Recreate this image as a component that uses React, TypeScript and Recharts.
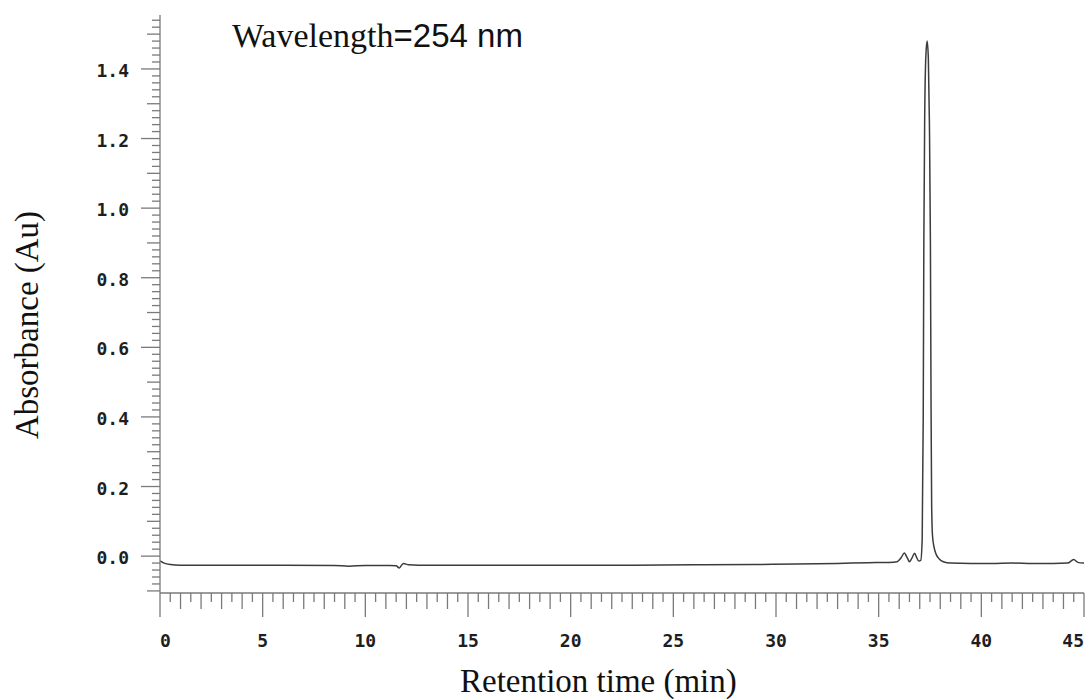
import { LineChart, Line, XAxis, YAxis, Customized } from "recharts"

// retention time (min) and absorbance (Au)
const times = [
    0, 0.2, 0.5, 1, 3, 6, 8.5, 9.2, 10, 11.2, 11.5, 11.65, 11.85, 12.1, 12.6,
    14, 17, 20, 23, 26, 29, 31, 33, 34.5, 35.5, 35.9, 36.1, 36.25, 36.4, 36.5,
    36.6, 36.75, 36.85, 36.95, 37.05, 37.12, 37.17, 37.2, 37.24, 37.3, 37.36,
    37.42, 37.47, 37.52, 37.55, 37.58, 37.62, 37.7, 37.8, 37.95, 38.15, 38.5,
    39.5, 40.5, 41.5, 42.5, 43.5, 44.2, 44.5, 44.7, 45,
]
const absorbance = [
    -0.014, -0.02, -0.024, -0.026, -0.026, -0.026, -0.027, -0.029, -0.027, -0.027, -0.028, -0.034, -0.021, -0.025, -0.026,
    -0.026, -0.026, -0.026, -0.026, -0.025, -0.024, -0.023, -0.021, -0.019, -0.018, -0.016, -0.004, 0.009, -0.006, -0.016,
    -0.008, 0.008, -0.004, -0.014, -0.012, 0.05, 0.4, 0.9, 1.25, 1.44, 1.48,
    1.43, 1.25, 0.9, 0.45, 0.15, 0.06, 0.025, 0.005, -0.008, -0.016, -0.02,
    -0.021, -0.021, -0.02, -0.021, -0.021, -0.02, -0.01, -0.018, -0.02,
]

const xLabels = [0, 5, 10, 15, 20, 25, 30, 35, 40, 45]
const yLabels = ["0.0", "0.2", "0.4", "0.6", "0.8", "1.0", "1.2", "1.4"]

const data = times.map((t, i) => ({ t, a: absorbance[i] }))

// minor ticks: every 0.5 min and every 0.02 Au
const xTicks = Array.from({ length: 91 }, (_, i) => i / 2)
const yTicks = Array.from({ length: 83 }, (_, i) => (-10 + 2 * i) / 100)

const axisColor = "#7a7a7a"
const tickFont = "'DejaVu Sans Mono', monospace"

const XTick = (props: any) => {
    const { x, y, payload } = props
    const v = payload.value
    const half = Math.round(v * 2)
    const isLabel = half % 10 === 0
    const len = isLabel ? 24 : half % 2 === 0 ? 16 : 9
    const lbl = xLabels.find((l) => l === v)
    let anchor = "middle"
    if (v === 0) anchor = "start"
    if (v === 45) anchor = "end"
    return (
        <g>
            <line x1={x} x2={x} y1={y} y2={y + len} stroke={axisColor} strokeWidth={1.3} />
            {isLabel && lbl !== undefined && (
                <text x={x} y={y + 54} textAnchor={anchor} fontFamily={tickFont} fontWeight="bold" fontSize={18} fill="#1e1e1e">
                    {lbl}
                </text>
            )}
        </g>
    )
}

const YTick = (props: any) => {
    const { x, y, payload } = props
    const k = Math.round(payload.value * 100)
    const isLabel = k % 20 === 0 && k >= 0
    const len = isLabel ? 19 : k % 10 === 0 ? 13 : 8
    return (
        <g>
            <line x1={x} x2={x - len} y1={y} y2={y} stroke={axisColor} strokeWidth={1.3} />
            {isLabel && (
                <text x={x - 31} y={y + 8} textAnchor="end" fontFamily={tickFont} fontWeight="bold" fontSize={18} fill="#1e1e1e">
                    {yLabels[k / 20]}
                </text>
            )}
        </g>
    )
}

const Titles = () => (
    <g>
        <text x={232} y={47} fontSize={34} fill="#111">
            <tspan fontFamily="'Liberation Serif', serif">Wavelength</tspan>
            <tspan fontFamily="'Liberation Sans', sans-serif" fontSize={33}>=254 nm</tspan>
        </text>
        <text x={460} y={692} fontSize={33} fontFamily="'Liberation Serif', serif" fill="#111">
            Retention time (min)
        </text>
        <text x={38} y={325} fontSize={33} fontFamily="'Liberation Serif', serif" fill="#111" textAnchor="middle" transform="rotate(-90 38 325)">
            Absorbance (Au)
        </text>
    </g>
)

export default function App() {
    return (
        <div style={{ position: "absolute", left: 0, top: 0, background: "#fff" }}>
            <LineChart width={1087} height={699} data={data} margin={{ top: 15, right: 3, bottom: 0, left: 0 }}>
                <XAxis
                    dataKey="t"
                    type="number"
                    domain={[0, 45]}
                    ticks={xTicks}
                    interval={0}
                    height={106}
                    tickSize={0}
                    tickMargin={0}
                    tickLine={false}
                    tick={<XTick />}
                    axisLine={{ stroke: axisColor, strokeWidth: 1.3 }}
                    allowDataOverflow
                />
                <YAxis
                    type="number"
                    domain={[-0.106, 1.555]}
                    ticks={yTicks}
                    interval={0}
                    width={160}
                    tickSize={0}
                    tickMargin={0}
                    tickLine={false}
                    tick={<YTick />}
                    axisLine={{ stroke: axisColor, strokeWidth: 1.3 }}
                    allowDataOverflow
                />
                <Line
                    dataKey="a"
                    type="monotone"
                    stroke="#3c3c3c"
                    strokeWidth={1.5}
                    dot={false}
                    isAnimationActive={false}
                />
                <Customized component={Titles} />
            </LineChart>
        </div>
    )
}
